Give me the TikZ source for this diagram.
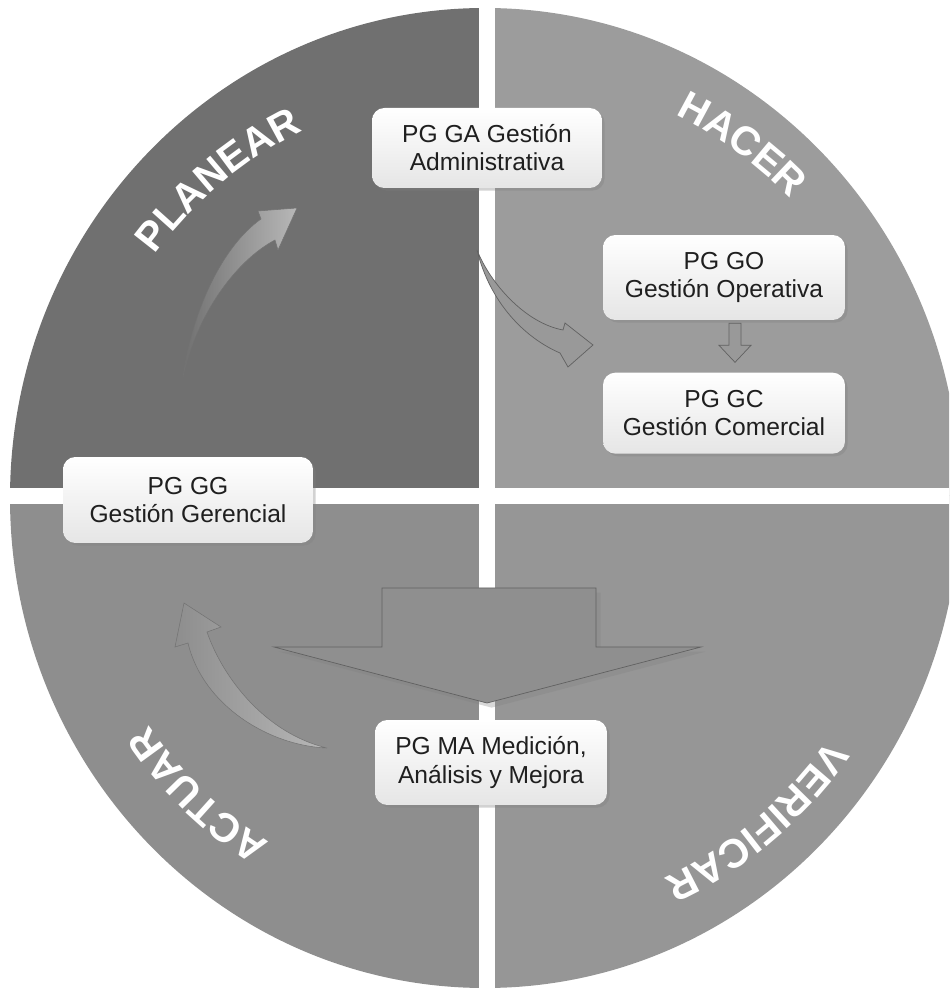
\documentclass[tikz,border=0pt]{standalone}
\usepackage{fontspec}
\setmainfont{Liberation Sans}
\usetikzlibrary{positioning,calc,shadows,decorations.text}

\definecolor{planear}{gray}{0.44}
\definecolor{hacer}{gray}{0.61}
\definecolor{actuar}{gray}{0.555}
\definecolor{verificar}{gray}{0.59}
\definecolor{boxtext}{gray}{0.12}
\newcommand{\quadfont}{\fontsize{23}{23}\selectfont\bfseries}

\begin{document}
\begin{tikzpicture}[
  x=0.02cm, y=0.02cm,
  node distance = 1.04cm and 1ex,
  box node/.style={
    rounded corners=7pt,
    top color=white,
    bottom color=black!10,
    drop shadow={opacity=0.35, shadow xshift=1.5pt, shadow yshift=-1.5pt},
    text=boxtext,
    align=center,
    inner sep=0pt,
    font=\fontsize{14}{16}\selectfont,
  },
  quad label/.style={
    decorate,
    decoration={
      text along path,
      text align=center,
      text color=white,
      text={|\quadfont|#1},
    },
  },
  light arrow/.style={
    left color=#1,
    right color=black!28,
    draw=black!55,
    line width=0.3pt,
  },
  embossed arrow/.style={
    fill=black!40,
    draw=black!62,
    line width=0.4pt,
  },
  ]
  \useasboundingbox (-485,-498) rectangle (464,498);
  \clip (-485,-498) rectangle (464,498);

  \foreach \sx/\sy/\quadcolor in {-1/1/planear, 1/1/hacer, -1/-1/actuar, 1/-1/verificar} {
    \begin{scope}
      \clip (2,2) rectangle ++(\sx*500,\sy*500);
      \fill[\quadcolor] (0,0) ellipse[x radius=475, y radius=490];
    \end{scope}
  }
  \draw[white, line width=0.32cm] (2,-500) -- (2,500);
  \draw[white, line width=0.32cm] (-500,2) -- (500,2);

  \path[quad label=PLANEAR] (0,0) ++(165:410) arc[start angle=165, end angle=95, radius=410];
  \path[quad label=HACER] (0,0) ++(85:428) arc[start angle=85, end angle=23, radius=428];
  \path[quad label=ACTUAR] (0,0) ++(260:406) arc[start angle=260, end angle=192, radius=406];
  \path[quad label=VERIFICAR] (0,0) ++(345:420) arc[start angle=345, end angle=275, radius=420];

  \coordinate (plan-tail) at (-302,121);
  \coordinate (plan-tip) at (-188,290);
  \path[light arrow=planear] (plan-tail) .. controls (-292,190) and (-262,252) .. (-224,279)
    -- (-227,287) -- (plan-tip) -- (-207,248) -- (-210,258)
    .. controls (-248,238) and (-288,185) .. cycle;

  \coordinate (act-tail) at (-158,-250);
  \coordinate (act-tip) at (-301,-105);
  \path[light arrow=actuar] (act-tail) .. controls (-215,-248) and (-282,-208) .. (-297,-145)
    -- (-310,-149) -- (act-tip) -- (-264,-129) -- (-278,-134)
    .. controls (-262,-180) and (-220,-235) .. cycle;

  \coordinate (do-tail) at (-8,248);
  \coordinate (do-tip) at (108,153);
  \path[embossed arrow] (do-tail) .. controls (5,215) and (40,175) .. (78,168)
    -- (80,175) -- (do-tip) -- (83,131) -- (75,145)
    .. controls (40,160) and (5,195) .. cycle;

  \coordinate (check-tip) at (2,-205);
  \path[embossed arrow, fill=black!44, drop shadow={opacity=0.3}]
    (-103,-90) -- (111,-90) -- (111,-149) -- (216,-149) -- (check-tip)
    -- (-211,-149) -- (-103,-149) -- cycle;

  \node[box node, minimum width=4.6cm, minimum height=1.6cm] (ga) at (2,350)
    {PG GA Gestión\\Administrativa};
  \node[box node, minimum width=4.84cm, minimum height=1.7cm] (go) at (239,220.5)
    {PG GO\\Gestión Operativa};
  \node[box node, minimum width=4.84cm, minimum height=1.62cm, below=of go] (gc)
    {PG GC\\Gestión Comercial};
  \node[box node, minimum width=5cm, minimum height=1.72cm] (gg) at (-297,-2)
    {PG GG\\Gestión Gerencial};
  \node[box node, minimum width=4.64cm, minimum height=1.7cm] (ma) at (6,-264.5)
    {PG MA Medición,\\Análisis y Mejora};

  \coordinate (go-gc) at ($(go.south)!0.5!(gc.north)+(11,3)$);
  \path[embossed arrow] (go-gc) ++(-6,20) -- ++(12,0) -- ++(0,-22) -- ++(10,0)
    -- ++(-16,-17) -- ++(-16,17) -- ++(10,0) -- cycle;
\end{tikzpicture}
\end{document}
